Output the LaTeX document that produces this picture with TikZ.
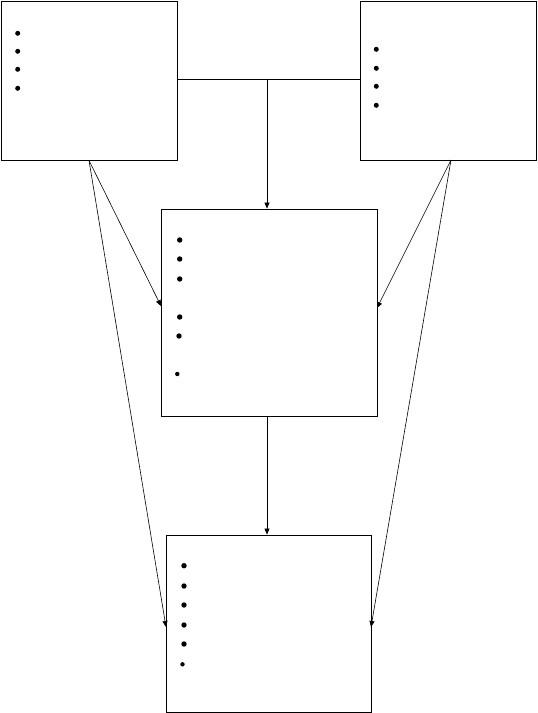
\documentclass[tikz,border=0pt]{standalone}
\usetikzlibrary{arrows.meta,calc}
\begin{document}
\begin{tikzpicture}[x=1pt,y=-1pt,
  box/.style={draw,line width=0.9pt,rectangle,inner sep=0pt,fill=white},
  conn/.style={line width=0.6pt},
  arr/.style={conn,-{Triangle[length=6pt,width=5pt]}},
  dot/.style={circle,fill=black,inner sep=0pt,minimum size=5.4pt},
  sdot/.style={circle,fill=black,inner sep=0pt,minimum size=4.4pt}]
\useasboundingbox (0,0) rectangle (538,713);
\node[box,minimum width=176pt,minimum height=159pt] (A) at (89,80.5) {};
\node[box,minimum width=176pt,minimum height=159pt] (B) at (448,80.5) {};
\node[box,minimum width=216pt,minimum height=207pt] (C) at (269,312.5) {};
\node[box,minimum width=205pt,minimum height=177pt] (D) at (268.5,623.5) {};
\coordinate (J) at (267,79);
\coordinate (Bs) at (451,160);
\coordinate (Cl) at (161,306);
\coordinate (Cr) at (377,308);
\coordinate (Dl) at (166,627);
\coordinate (Dr) at (371,627);
\draw[conn] (J -| A.east) -- (J -| B.west);
\draw[arr] (J) -- (J |- C.north);
\draw[arr] (A.south) -- (Cl);
\draw[arr] (A.south) -- (Dl);
\draw[arr] (Bs) -- (Cr);
\draw[arr] (Bs) -- (Dr);
\draw[arr] (C.south -| J) -- (J |- D.north);
% bullets
\foreach \y [count=\i] in {33.3,51.3,69.3,88.3} \node[dot,minimum size=5pt] (a\i) at (17.7,\y) {};
\foreach \y [count=\i] in {49.3,68.3,86.3,105.3} \node[dot,minimum size=5pt] (b\i) at (376.3,\y) {};
\foreach \y [count=\i] in {240,259,279,317} \node[dot] (c\i) at (179.7,\y) {};
\node[dot] (c5) at (179,336) {};
\node[sdot] (c6) at (177.3,374) {};
\foreach \y [count=\i] in {565.7,586,605,625,644} \node[dot] (d\i) at (184,\y) {};
\node[sdot] (d6) at (182.5,664.3) {};
\end{tikzpicture}
\end{document}
